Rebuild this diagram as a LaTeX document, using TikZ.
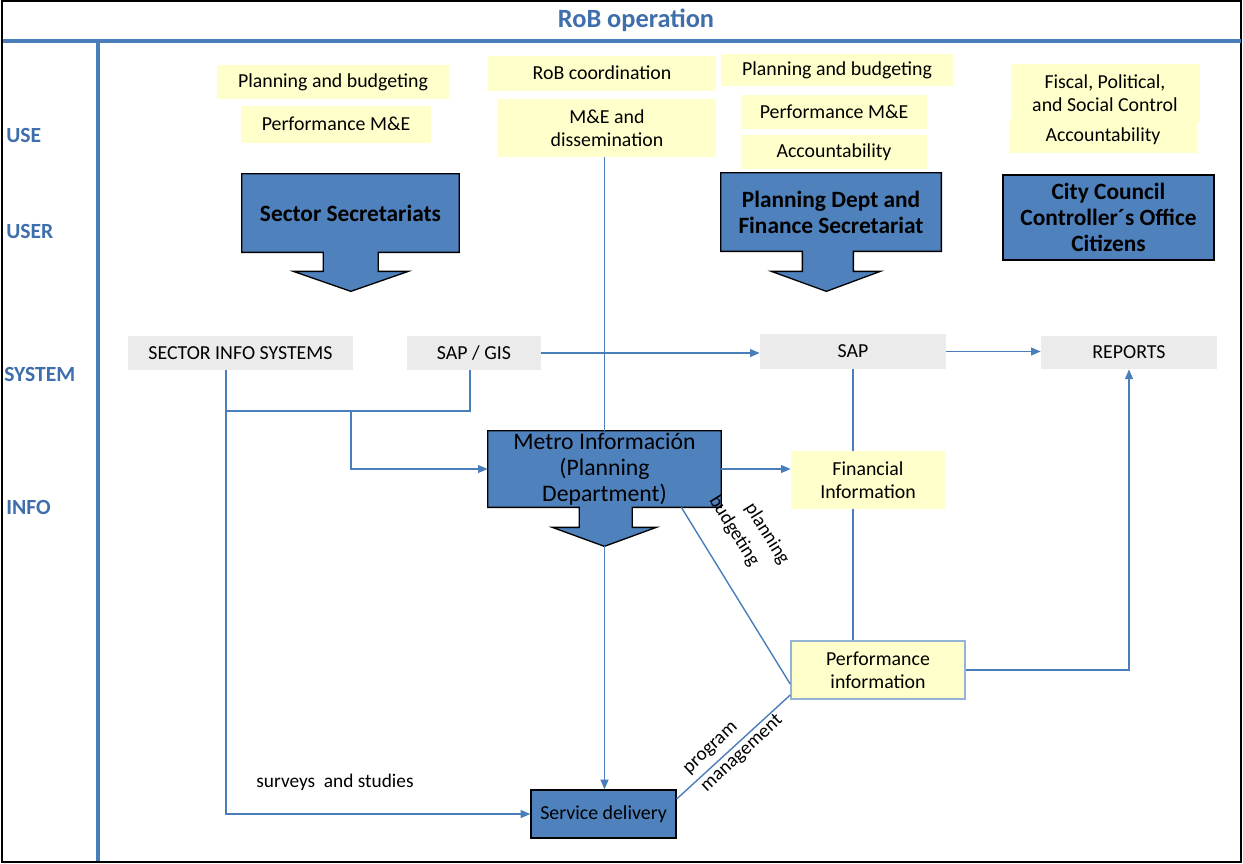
\documentclass[tikz,border=0pt]{standalone}
\usepackage{fontspec}
\setmainfont{Carlito}
\usetikzlibrary{arrows.meta,calc,backgrounds}
\definecolor{robblue}{HTML}{4F81BD}
\definecolor{robline}{HTML}{4A7EBB}
\definecolor{robtext}{HTML}{3E6EAB}
\definecolor{robyellow}{HTML}{FFFFCC}
\definecolor{robgrey}{HTML}{EBEBEB}
\definecolor{robedge}{HTML}{95B3D7}
\begin{document}
\begin{tikzpicture}[x=0.02cm,y=-0.02cm,
  usebox/.style={fill=robyellow,inner sep=1pt,align=center,font=\fontsize{11.3}{13.3}\selectfont},
  sysbox/.style={fill=robgrey,inner sep=1pt,font=\fontsize{11.3}{13.3}\selectfont},
  userbox/.style={inner sep=0pt,align=center,font=\fontsize{13.3}{14.7}\selectfont\bfseries},
  bluebox/.style={draw=black,fill=robblue,line width=0.75pt},
  lane/.style={text=robtext,anchor=west,inner sep=0pt,font=\fontsize{12.3}{14}\selectfont\bfseries},
  conn/.style={draw=robline,line width=0.8pt},
  flow/.style={conn,-{Triangle[length=5.5pt,width=4.5pt]}},
  note/.style={inner sep=0pt,font=\fontsize{11}{13}\selectfont}]
  \useasboundingbox (0,0) rectangle (1243,863);
  \draw[line width=0.9pt] (2,1) rectangle (1241,862);
  \draw[robline,line width=2pt] (3,41) -- (1241,41);
  \draw[robline,line width=2pt] (98,41) -- (98,861);
  \node[text=robtext,font=\fontsize{15}{18}\selectfont\bfseries] (title) at (636,20) {RoB operation};
  \node[lane] (use) at (6,135) {USE};
  \node[lane] (user) at (6,231) {USER};
  \node[lane] (system) at (4,374) {SYSTEM};
  \node[lane] (info) at (6,507) {INFO};
  \node[usebox,minimum width=4.64cm,minimum height=0.68cm] (ssplan) at (333,82) {Planning and budgeting};
  \node[usebox,minimum width=3.8cm,minimum height=0.74cm] (ssme) at (336,124) {Performance M\&E};
  \node[usebox,minimum width=4.56cm,minimum height=0.70cm] (robco) at (602,73) {RoB coordination};
  \node[usebox,minimum width=4.36cm,minimum height=1.16cm] (robme) at (607,128) {M\&E and\\dissemination};
  \node[usebox,minimum width=4.64cm,minimum height=0.64cm] (pdplan) at (837,70) {Planning and budgeting};
  \node[usebox,minimum width=3.74cm,minimum height=0.68cm] (pdme) at (834,112) {Performance M\&E};
  \node[usebox,minimum width=3.74cm,minimum height=0.68cm] (pdacc) at (834,152) {Accountability};
  \node[usebox,minimum width=3.78cm,minimum height=1.16cm] (ccfisc) at (1105,93) {Fiscal, Political,\\and Social Control};
  \node[usebox,minimum width=3.74cm,minimum height=0.68cm] (ccacc) at (1103,136) {Accountability};
  \node[userbox,minimum width=4.34cm,minimum height=1.56cm] (secsec) at (350.5,213) {Sector Secretariats};
  \node[userbox,minimum width=4.4cm,minimum height=1.56cm] (pdfin) at (831,212) {Planning Dept and\\Finance Secretariat};
  \node[userbox,bluebox,minimum width=4.22cm,minimum height=1.70cm] (city) at (1108.5,217.5) {City Council\\Controller´s Office\\Citizens};
  \node[sysbox,minimum width=4.5cm,minimum height=0.68cm] (secinfo) at (240.5,353) {SECTOR INFO SYSTEMS};
  \node[sysbox,minimum width=2.68cm,minimum height=0.68cm] (sapgis) at (474,353) {SAP / GIS};
  \node[sysbox,minimum width=3.72cm,minimum height=0.70cm] (sap) at (853,351.5) {SAP};
  \node[sysbox,minimum width=3.52cm,minimum height=0.66cm] (reports) at (1129,352.5) {REPORTS};
  \node[inner sep=0pt,align=center,font=\fontsize{13.5}{14.7}\selectfont,minimum width=4.66cm,minimum height=1.52cm] (metro) at (604.5,469) {Metro Información\\(Planning\\Department)};
  \node[usebox,minimum width=3.08cm,minimum height=1.16cm] (fin) at (868,480) {Financial\\Information};
  \node[usebox,draw=robedge,line width=0.9pt,minimum width=3.48cm,minimum height=1.16cm] (perf) at (878,670) {Performance\\information};
  \node[bluebox,inner sep=1pt,font=\fontsize{11.3}{13.3}\selectfont,minimum width=2.9cm,minimum height=0.96cm] (service) at (603.5,814) {Service delivery};
  \coordinate (metrotip) at ($(metro.south)+(0,39)$);
  \begin{scope}[on background layer]
    \draw[bluebox] (secsec.north west) -- (secsec.north east) -- (secsec.south east) -- ++(-81,0) -- ++(0,19) -- ++(30,0) -- ++(-57.5,20) -- ++(-57.5,-20) -- ++(30,0) -- ++(0,-19) -- (secsec.south west) -- cycle;
    \draw[bluebox] (pdfin.north west) -- (pdfin.north east) -- (pdfin.south east) -- ++(-88,0) -- ++(0,20) -- ++(27,0) -- ++(-54,20) -- ++(-55,-20) -- ++(31,0) -- ++(0,-20) -- (pdfin.south west) -- cycle;
    \draw[bluebox] (metro.north west) -- (metro.north east) -- (metro.south east) -- ++(-89,0) -- ++(0,20) -- ++(24,0) -- ++(-52,19) -- ++(-52,-19) -- ++(27,0) -- ++(0,-20) -- (metro.south west) -- cycle;
  \end{scope}
  \coordinate (busL) at (226,411);
  \coordinate (busM) at (351,411);
  \coordinate (busR) at (470,411);
  \draw[flow] (sapgis.east) -- (sapgis.east -| sap.west);
  \draw[flow] (sap.east) -- (sap.east -| reports.west);
  \draw[conn] (metro.north |- robme.south) -- (metro.north);
  \draw[flow] (metrotip) -- (metrotip |- service.north);
  \draw[conn] (secinfo.south -| busL) -- (busL) -- (busR) -- (sapgis.south -| busR);
  \draw[flow] (busM) |- (metro.west);
  \draw[flow] (busL) |- (service.west);
  \draw[flow] (metro.east) -- (metro.east -| fin.west);
  \draw[conn] (sap.south) -- (sap.south |- fin.north);
  \draw[conn] (sap.south |- fin.south) -- (sap.south |- perf.north);
  \draw[flow] (perf.east) -| (reports.south);
  \draw[conn] ([xshift=-0.8cm]metro.south east) -- ([yshift=-0.28cm]perf.west);
  \draw[conn] ([yshift=0.3cm]service.east) -- ([yshift=-0.5cm]perf.west);
  \node[note,rotate=-58] (budg) at (734,531) {budgeting};
  \node[note,rotate=-58] (plan) at (767,534) {planning};
  \node[note,rotate=43] (prog) at (711.5,749) {program};
  \node[note,rotate=43] (mgmt) at (742,753.5) {management};
  \node[note] (surv) at (335,782) {surveys\ \ and studies};
\end{tikzpicture}
\end{document}
